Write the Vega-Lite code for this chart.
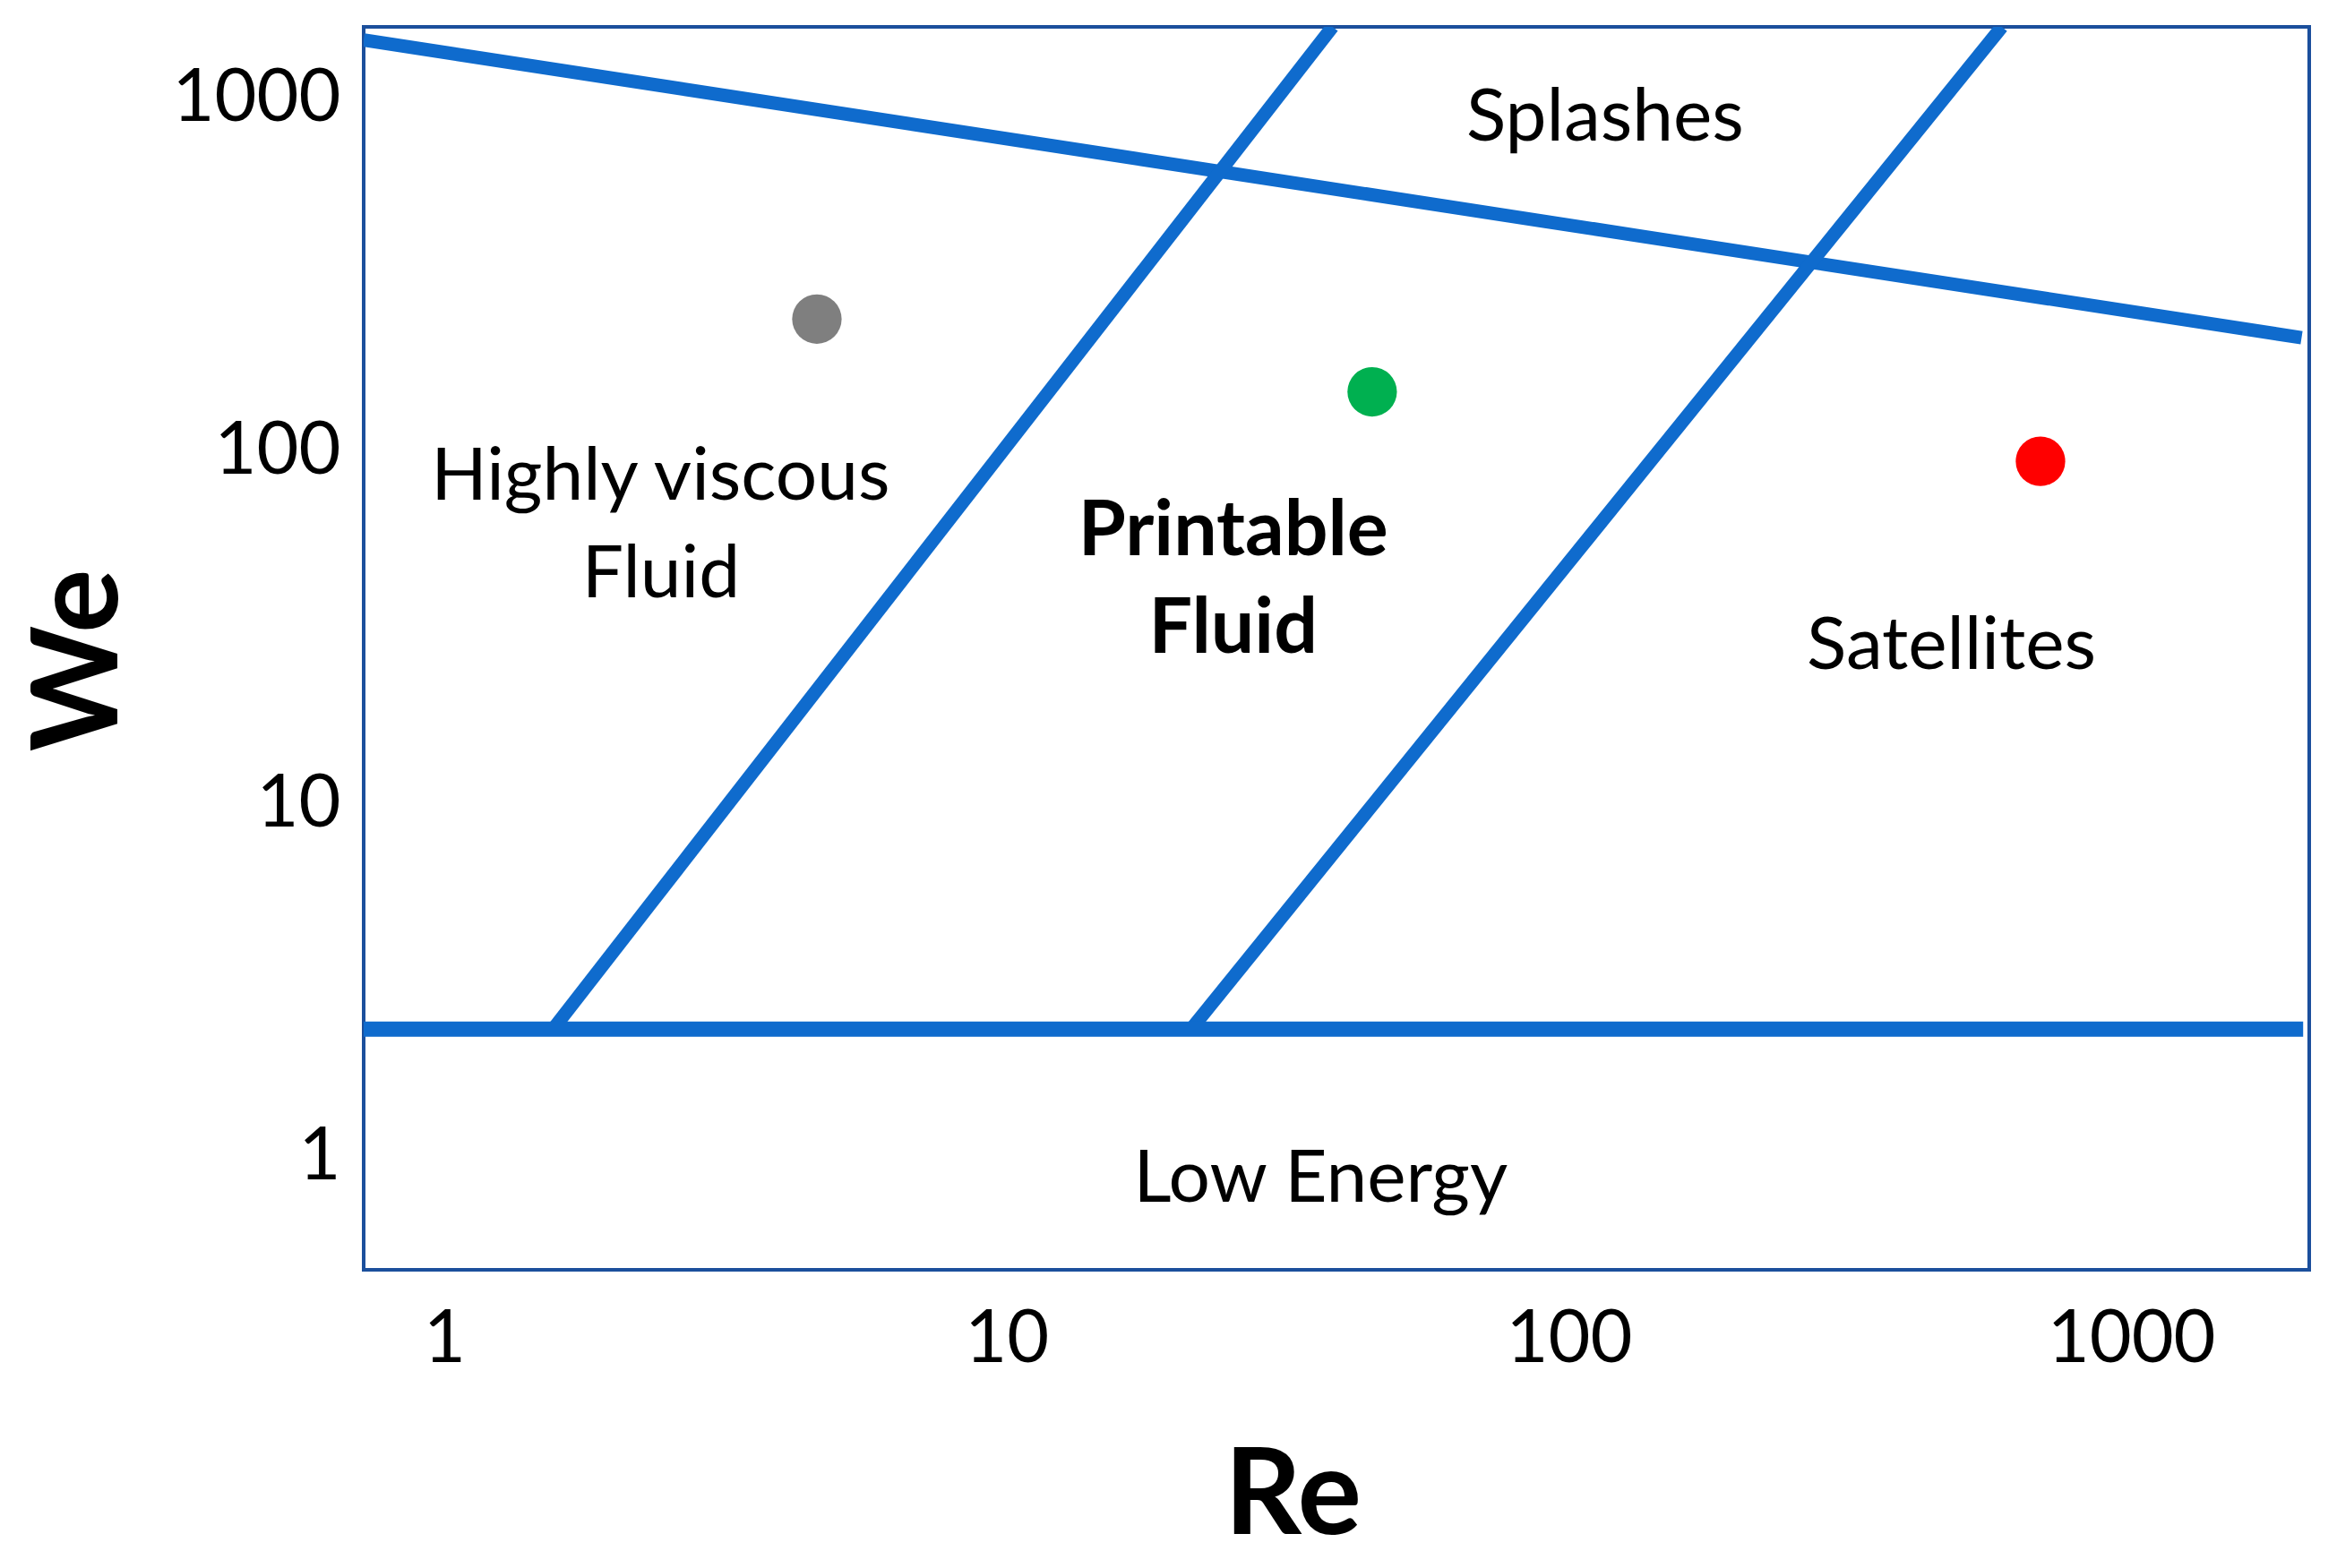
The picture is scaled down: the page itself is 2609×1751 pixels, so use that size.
{
  "$schema": "https://vega.github.io/schema/vega-lite/v6.json",
  "width": 2172,
  "height": 1388,
  "autosize": {"type": "none"},
  "padding": {"left": 406, "top": 30, "right": 31, "bottom": 333},
  "background": "white",
  "config": {
    "view": {"stroke": "#1B4F9C", "strokeWidth": 4},
    "font": "Lato"
  },
  "datasets": {
    "thin": [
      {"seg": "top", "Re": 0.719, "We": 1469},
      {"seg": "top", "Re": 2010, "We": 210.6},
      {"seg": "left", "Re": 1.561, "We": 2.312},
      {"seg": "left", "Re": 38.0, "We": 1600},
      {"seg": "right", "Re": 21.3, "We": 2.312},
      {"seg": "right", "Re": 589, "We": 1600}
    ],
    "bottom": [
      {"seg": "low", "Re": 0.719, "We": 2.312},
      {"seg": "low", "Re": 2023, "We": 2.312}
    ],
    "dots": [
      {"name": "gray", "Re": 4.60, "We": 237.8},
      {"name": "green", "Re": 44.7, "We": 147.9},
      {"name": "red", "Re": 690, "We": 94.0}
    ],
    "labels": [
      {"label": "Splashes", "Re": 116, "We": 764},
      {"label": "Highly viscous", "Re": 2.424, "We": 73.1},
      {"label": "Fluid", "Re": 2.43, "We": 38.6},
      {"label": "Satellites", "Re": 479, "We": 24.3},
      {"label": "Low Energy", "Re": 36.2, "We": 0.748}
    ],
    "boldLabels": [
      {"label": "Printable", "Re": 25.3, "We": 50.9},
      {"label": "Fluid", "Re": 25.3, "We": 26.9}
    ]
  },
  "encoding": {
    "x": {
      "field": "Re",
      "type": "quantitative",
      "scale": {"type": "log", "domain": [0.719, 2074], "nice": false, "zero": false},
      "axis": {
        "values": [1, 10, 100, 1000],
        "format": "d",
        "ticks": false,
        "domain": false,
        "grid": false,
        "labelFont": "Lato",
        "labelFontSize": 81,
        "labelColor": "black",
        "labelPadding": 38,
        "labelLimit": 0,
        "labelFlush": false,
        "labelOverlap": false,
        "title": "Re",
        "titleFont": "Lato",
        "titleFontSize": 134,
        "titleFontWeight": "bold",
        "titleColor": "black",
        "titleX": 1037,
        "titleY": 294,
        "titleAlign": "center",
        "titleBaseline": "alphabetic"
      }
    },
    "y": {
      "field": "We",
      "type": "quantitative",
      "scale": {"type": "log", "domain": [0.481, 1600], "nice": false, "zero": false},
      "axis": {
        "values": [1, 10, 100, 1000],
        "format": "d",
        "ticks": false,
        "domain": false,
        "grid": false,
        "labelFont": "Lato",
        "labelFontSize": 81,
        "labelColor": "black",
        "labelPadding": 26,
        "labelLimit": 0,
        "labelFlush": false,
        "labelOverlap": false,
        "title": "We",
        "titleFont": "Lato",
        "titleFontSize": 134,
        "titleFontWeight": "bold",
        "titleColor": "black",
        "titleAngle": 270,
        "titleX": -276,
        "titleY": 707,
        "titleAlign": "center",
        "titleBaseline": "alphabetic"
      }
    }
  },
  "layer": [
    {
      "data": {"name": "thin"},
      "mark": {"type": "line", "color": "#0F6BCD", "strokeWidth": 15, "clip": true},
      "encoding": {"detail": {"field": "seg", "type": "nominal"}}
    },
    {
      "data": {"name": "bottom"},
      "mark": {"type": "line", "color": "#0F6BCD", "strokeWidth": 17, "clip": true},
      "encoding": {"detail": {"field": "seg", "type": "nominal"}}
    },
    {
      "data": {"name": "dots"},
      "mark": {"type": "point", "filled": true, "opacity": 1, "size": 3050, "shape": "circle"},
      "encoding": {
        "color": {
          "field": "name",
          "type": "nominal",
          "scale": {"domain": ["gray", "green", "red"], "range": ["#7F7F7F", "#00B050", "#FF0000"]},
          "legend": null
        }
      }
    },
    {
      "data": {"name": "labels"},
      "mark": {"type": "text", "font": "Lato", "fontSize": 82, "color": "black", "align": "center", "baseline": "alphabetic"},
      "encoding": {"text": {"field": "label", "type": "nominal"}}
    },
    {
      "data": {"name": "boldLabels"},
      "mark": {"type": "text", "font": "Lato", "fontSize": 86, "fontWeight": "bold", "color": "black", "align": "center", "baseline": "alphabetic"},
      "encoding": {"text": {"field": "label", "type": "nominal"}}
    }
  ]
}
